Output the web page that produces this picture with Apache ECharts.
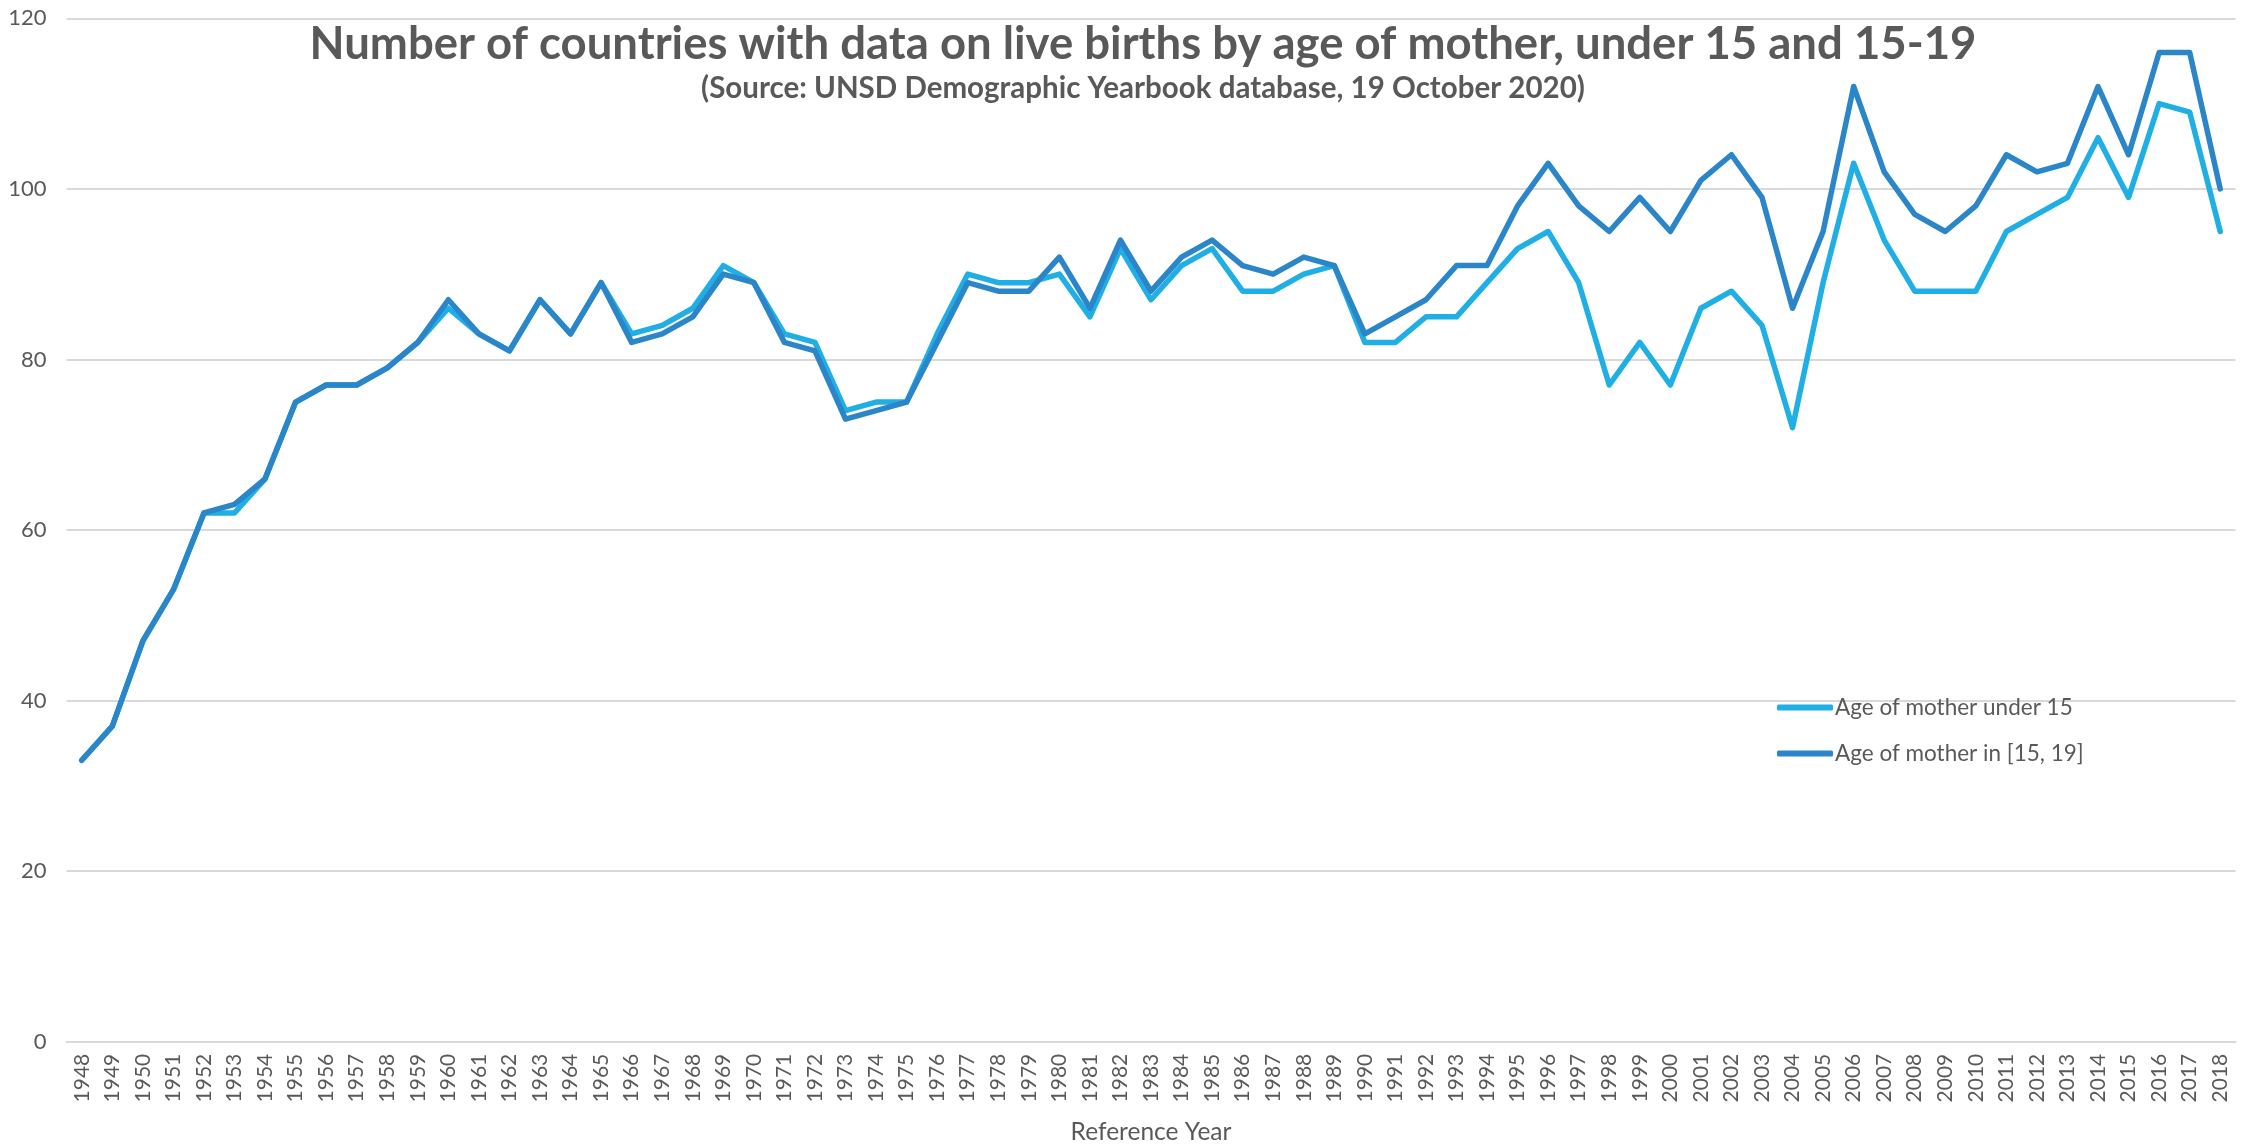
<!DOCTYPE html>
<html>
<head>
<meta charset="utf-8">
<script src="https://cdn.jsdelivr.net/npm/echarts@6/dist/echarts.min.js"></script>
<style>
  html, body { margin: 0; padding: 0; background: #ffffff; }
  #chart { width: 2262px; height: 1146px; }
</style>
</head>
<body>
<div id="chart"></div>
<script>
const years = [
  '1948','1949','1950','1951','1952','1953','1954','1955','1956','1957',
  '1958','1959','1960','1961','1962','1963','1964','1965','1966','1967',
  '1968','1969','1970','1971','1972','1973','1974','1975','1976','1977',
  '1978','1979','1980','1981','1982','1983','1984','1985','1986','1987',
  '1988','1989','1990','1991','1992','1993','1994','1995','1996','1997',
  '1998','1999','2000','2001','2002','2003','2004','2005','2006','2007',
  '2008','2009','2010','2011','2012','2013','2014','2015','2016','2017',
  '2018'
];

const under15 = [
  33, 37, 47, 53, 62, 62, 66, 75, 77, 77,
  79, 82, 86, 83, 81, 87, 83, 89, 83, 84,
  86, 91, 89, 83, 82, 74, 75, 75, 83, 90,
  89, 89, 90, 85, 93, 87, 91, 93, 88, 88,
  90, 91, 82, 82, 85, 85, 89, 93, 95, 89,
  77, 82, 77, 86, 88, 84, 72, 89, 103, 94,
  88, 88, 88, 95, 97, 99, 106, 99, 110, 109,
  95
];

const age15to19 = [
  33, 37, 47, 53, 62, 63, 66, 75, 77, 77,
  79, 82, 87, 83, 81, 87, 83, 89, 82, 83,
  85, 90, 89, 82, 81, 73, 74, 75, 82, 89,
  88, 88, 92, 86, 94, 88, 92, 94, 91, 90,
  92, 91, 83, 85, 87, 91, 91, 98, 103, 98,
  95, 99, 95, 101, 104, 99, 86, 95, 112, 102,
  97, 95, 98, 104, 102, 103, 112, 104, 116, 116,
  100
];

const seriesNames = ['Age of mother under 15', 'Age of mother in [15, 19]'];
const yTicks = [0, 20, 40, 60, 80, 100, 120];

const titleText = 'Number of countries with data on live births by age of mother, under 15 and 15-19';
const subtitleText = '(Source: UNSD Demographic Yearbook database, 19 October 2020)';
const xAxisTitle = 'Reference Year';

const textColor = '#595959';
const colorA = '#1FAFE5';
const colorB = '#2A86C8';

const chart = echarts.init(document.getElementById('chart'), null, { renderer: 'canvas' });

chart.setOption({
  backgroundColor: '#ffffff',
  animation: false,
  title: {
    text: titleText,
    subtext: subtitleText,
    left: 1143,
    top: 21,
    textAlign: 'center',
    itemGap: 6,
    padding: 0,
    textStyle: {
      fontFamily: 'Lato',
      fontWeight: 'bold',
      fontSize: 45.5,
      color: textColor
    },
    subtextStyle: {
      fontFamily: 'Lato',
      fontWeight: 'bold',
      fontSize: 29.5,
      color: textColor
    }
  },
  legend: {
    orient: 'vertical',
    left: 1777,
    top: 696,
    padding: 0,
    itemWidth: 56,
    itemHeight: 6,
    itemGap: 23,
    icon: 'roundRect',
    data: seriesNames,
    textStyle: {
      fontFamily: 'Lato',
      fontSize: 22.5,
      color: textColor,
      padding: [0, 0, 0, -3]
    }
  },
  grid: {
    left: 66.5,
    right: 26.5,
    top: 18.3,
    bottom: 104.3,
    containLabel: false,
    outerBoundsMode: 'none'
  },
  xAxis: {
    type: 'category',
    data: years,
    boundaryGap: true,
    name: xAxisTitle,
    nameLocation: 'middle',
    nameGap: 78,
    nameTextStyle: {
      fontFamily: 'Lato',
      fontSize: 24.5,
      color: textColor
    },
    axisLine: { show: true, lineStyle: { color: '#d9d9d9', width: 2 } },
    axisTick: { show: false },
    axisLabel: {
      interval: 0,
      rotate: 90,
      margin: 12,
      fontFamily: 'Lato',
      fontSize: 21,
      color: textColor
    },
    splitLine: { show: false }
  },
  yAxis: {
    type: 'value',
    min: yTicks[0],
    max: yTicks[yTicks.length - 1],
    interval: yTicks[1] - yTicks[0],
    axisLine: { show: false },
    axisTick: { show: false },
    axisLabel: {
      margin: 20,
      fontFamily: 'Lato',
      fontSize: 22,
      color: textColor
    },
    splitLine: { show: true, lineStyle: { color: '#d9d9d9', width: 2 } }
  },
  series: [
    {
      name: seriesNames[0],
      type: 'line',
      data: under15,
      showSymbol: false,
      symbol: 'none',
      color: colorA,
      lineStyle: { color: colorA, width: 5.5, join: 'round', cap: 'round' }
    },
    {
      name: seriesNames[1],
      type: 'line',
      data: age15to19,
      showSymbol: false,
      symbol: 'none',
      color: colorB,
      lineStyle: { color: colorB, width: 5.5, join: 'round', cap: 'round' }
    }
  ]
});
</script>
</body>
</html>
